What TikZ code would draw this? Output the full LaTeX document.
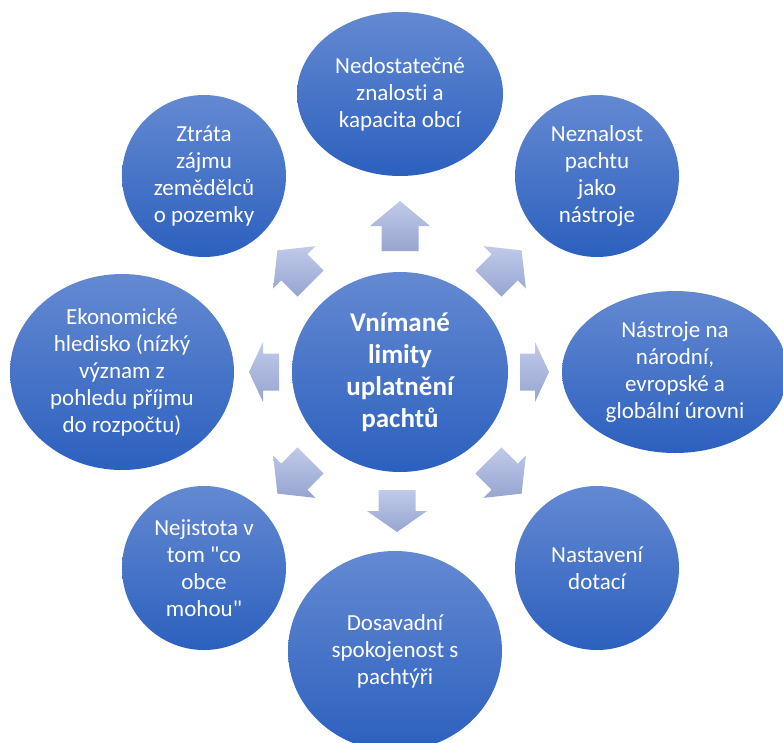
\documentclass[tikz,border=0pt]{standalone}
\usepackage{fontspec}
\setmainfont{Carlito}[Ligatures={CommonOff,ContextualOff,TeXOff}]
\usetikzlibrary{shapes.geometric}
\definecolor{ellTop}{RGB}{100,137,210}
\definecolor{ellBot}{RGB}{44,96,190}
\definecolor{arrTop}{RGB}{192,202,233}
\definecolor{arrBot}{RGB}{150,164,208}
\tikzset{
  bubble/.style={ellipse, inner sep=0pt, top color=ellTop, bottom color=ellBot,
    draw=none, text=white, align=center, font=\fontsize{23}{27}\selectfont},
  hub/.style={bubble, font=\fontsize{27}{32}\selectfont\bfseries},
  arrowshade/.style={top color=arrTop, bottom color=arrBot, draw=none}
}
\newcommand{\bkarrow}[5]{%
  \pgfmathsetmacro\arrA{-(#4+#5)/2}%
  \pgfmathsetmacro\arrB{\arrA+#4}%
  \pgfmathsetmacro\arrD{(#4+#5)/2}%
  \shade[arrowshade]
    ([shift={(#1,#2)},rotate=#3]\arrA,-18.5) --
    ([shift={(#1,#2)},rotate=#3]\arrB,-18.5) --
    ([shift={(#1,#2)},rotate=#3]\arrB,-30) --
    ([shift={(#1,#2)},rotate=#3]\arrD,0) --
    ([shift={(#1,#2)},rotate=#3]\arrB,30) --
    ([shift={(#1,#2)},rotate=#3]\arrB,18.5) --
    ([shift={(#1,#2)},rotate=#3]\arrA,18.5) -- cycle;}
\begin{document}
\begin{tikzpicture}[x=1pt,y=-1pt]
\useasboundingbox (0,0) rectangle (783,742);
% hub
\node[hub, minimum width=216pt, minimum height=200pt] (c) at (400,372)
  {Vnímané\\limity\\uplatnění\\pachtů};
% outer bubbles
\node[bubble, minimum width=206pt, minimum height=164pt] (t) at (400,94)
  {Nedostatečné\\znalosti a\\kapacita obcí};
\node[bubble, minimum width=164pt, minimum height=162pt] (tl) at (204,176)
  {Ztráta\\zájmu\\zemědělců\\o pozemky};
\node[bubble, minimum width=164pt, minimum height=162pt] (tr) at (597,176)
  {Neznalost\\pachtu\\jako\\nástroje};
\node[bubble, minimum width=224pt, minimum height=196pt] (l) at (122,372)
  {Ekonomické\\hledisko (nízký\\význam z\\pohledu příjmu\\do rozpočtu)};
\node[bubble, minimum width=226pt, minimum height=162pt] (r) at (675,372)
  {Nástroje na\\národní,\\evropské a\\globální úrovni};
\node[bubble, minimum width=164pt, minimum height=164pt] (bl) at (204,568)
  {Nejistota v\\tom "co\\obce\\mohou"};
\node[bubble, minimum width=164pt, minimum height=164pt] (br) at (597,568)
  {Nastavení\\dotací};
\node[bubble, minimum width=214pt, minimum height=200pt] (b) at (395,651)
  {Dosavadní\\spokojenost s\\pachtýři};
% block arrows
\bkarrow{400}{226}{90}{25}{25}
\bkarrow{397}{511}{270}{21}{21}
\bkarrow{264}{372}{180}{16}{14}
\bkarrow{534.5}{372}{0}{15}{14}
\bkarrow{294}{267}{135}{23}{24}
\bkarrow{505}{267}{45}{23}{24}
\bkarrow{294}{477}{225}{23}{24}
\bkarrow{505}{477}{315}{23}{24}
\end{tikzpicture}
\end{document}
